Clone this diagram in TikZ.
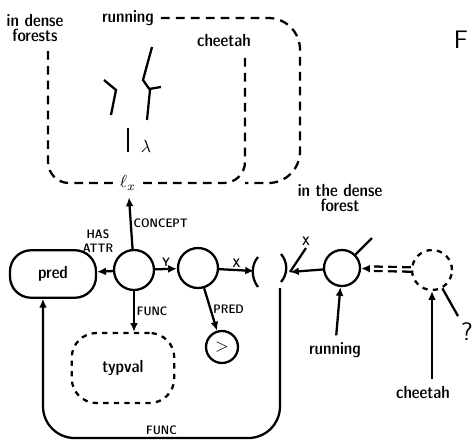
\documentclass[tikz,border=0pt]{standalone}
\usetikzlibrary{arrows.meta}
\begin{document}
\begin{tikzpicture}[x=0.02cm, y=-0.02cm, line width=1.3pt,
  every node/.style={font=\sffamily\fontseries{sbc}\selectfont},
  conc/.style={circle, draw, minimum size=0.8cm, inner sep=0pt},
  lab/.style={font=\sffamily\fontseries{sbc}\selectfont\scriptsize, inner sep=1pt},
  link/.style={dash pattern=on 5pt off 3.5pt, rounded corners=12},
  arr/.style={-{Latex[length=5pt,width=4.5pt]}}]
  \useasboundingbox (0,0) rectangle (474,443);
  \node (forests) at (35,28) [align=center] {in dense\\[-3pt]forests};
  \node (runtop) at (128,18) {running};
  \node (cheetop) at (224,40) {cheetah};
  \node (fig) at (461,40) [font=\sffamily\Large] {F};
  \node (lam) at (146,146) {$\lambda$};
  \node (tx) at (128,183) {$\ell_x$};
  \coordinate (merge) at (245,183);
  \draw[link] (tx) -| ([xshift=0.26cm]forests.south);
  \draw[link] (tx) -| ([xshift=0.42cm]cheetop.south);
  \draw[link, rounded corners=18] (runtop) -- (300,18) -- (300,183) -- (merge);
  \draw (104,80) -- (116,90) -- (111,115);
  \draw (152,47) -- (143,80) -- (150,90) -- (147,120);
  \draw (149,89) -- (161,87);
  \draw (128,128) -- (128,152);
  % concept graph
  \node (pred) at (53,274) [draw, rounded corners=12, minimum width=1.72cm, minimum height=0.95cm] {pred};
  \node (c1) at (134,270) [conc] {};
  \node (c2) at (198,268) [conc] {};
  \node (gt) at (222,347) [conc, minimum size=0.64cm] {$>$};
  \node (typval) at (123,368) [draw, dashed, rounded corners=14, minimum width=2.05cm, minimum height=1.4cm] {typval};
  \node (c3) at (342,268) [conc, minimum size=0.72cm] {};
  \node (c4) at (432,270) [conc, dashed, minimum size=0.8cm] {};
  \node (dense) at (340,198) [align=center] {in the dense\\[-3pt]forest};
  \node (runlow) at (335,350) {running};
  \node (cheelow) at (423,392) {cheetah};
  \node (quest) at (467,332) [font=\sffamily\Large] {?};
  \coordinate (jl) at (254,271);
  \coordinate (jr) at (290,272);
  \coordinate (loopend) at (280,288);
  \coordinate (densefoot) at (372,238);
  \draw (258,257) .. controls (251,265) and (251,278) .. (258,287);
  \draw (281,254) .. controls (288,262) and (288,274) .. (281,282);
  \draw (jr) -- (306,248) node[lab, above] {X};
  \draw[arr] (c1) -- node[lab, above=9pt, align=center, xshift=-4pt] {HAS\\ATTR} (pred);
  \draw[arr] (c1) -- node[lab, right] {CONCEPT} (tx);
  \draw[arr] (c1) -- node[lab, above] {Y} (c2);
  \draw[arr] (c2) -- node[lab, above] {X} (jl);
  \draw[arr] (c1) -- node[lab, right] {FUNC} (c1 |- typval.north);
  \draw[arr] (c2) -- node[lab, right] {PRED} (gt);
  \draw[arr, rounded corners=18] (loopend) -- (280,438) -- node[lab, above] {FUNC} (43,438) -- ([xshift=-0.2cm]pred.south);
  \draw[arr] (c3) -- (jr);
  \draw (c3) -- (densefoot);
  \draw[arr] (runlow) -- (c3);
  \draw[arr, double, double distance=1.2pt, dash pattern=on 5pt off 3pt] (c4) -- (c3);
  \draw[arr] (c4 |- cheelow.north) -- (c4);
  \draw (c4) -- (quest);
\end{tikzpicture}
\end{document}
